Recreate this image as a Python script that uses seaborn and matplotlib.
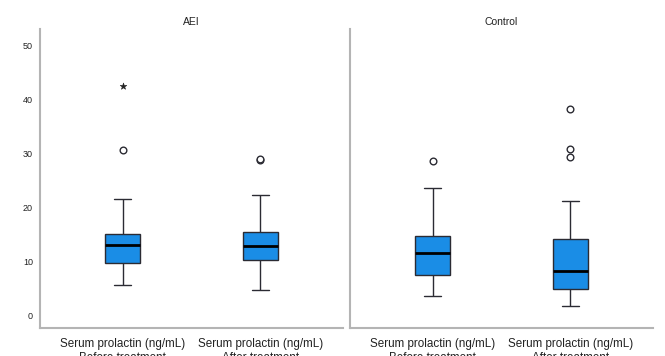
import matplotlib
matplotlib.use("Agg")
import matplotlib.pyplot as plt
import seaborn as sns
import pandas as pd

# Panels and the two measurements shown in each
groups = ["AEI", "Control"]
measures = ["Serum prolactin (ng/mL)\nBefore treatment",
            "Serum prolactin (ng/mL)\nAfter treatment"]

# Five-number summaries: lower whisker, Q1, median, Q3, upper whisker
aei_before = [5.5, 9.7, 12.9, 15.1, 21.5]
aei_after = [4.6, 10.2, 12.8, 15.3, 22.3]
control_before = [3.5, 7.5, 11.5, 14.7, 23.5]
control_after = [1.6, 4.9, 8.2, 14.1, 21.2]

# Outliers (circles) and extreme values (stars)
aei_before_outliers = [30.6]
aei_before_extremes = [42.5]
aei_after_outliers = [28.7, 28.9]
aei_after_extremes = []
control_before_outliers = [28.5]
control_before_extremes = []
control_after_outliers = [29.3, 30.7, 38.2]
control_after_extremes = []

y_ticks = [0, 10, 20, 30, 40, 50]

summaries = {
    "AEI": [aei_before, aei_after],
    "Control": [control_before, control_after],
}
outliers = {
    "AEI": [aei_before_outliers, aei_after_outliers],
    "Control": [control_before_outliers, control_after_outliers],
}
extremes = {
    "AEI": [aei_before_extremes, aei_after_extremes],
    "Control": [control_before_extremes, control_after_extremes],
}


def long_frame(per_measure):
    rows = []
    for m, vals in zip(measures, per_measure):
        for v in vals:
            rows.append({"measure": m, "value": v})
    return pd.DataFrame(rows, columns=["measure", "value"])


sns.set_style("white")
plt.rcParams["font.family"] = ["Liberation Sans", "DejaVu Sans"]

W, H = 665, 356
fig = plt.figure(figsize=(W / 100, H / 100), dpi=100)

box_color = "#1a8de6"
edge_color = "#2b2b33"
spine_color = "#b4b4b4"

panel_left_px = [40, 350]
panel_width_px = 303
top_px, bottom_px = 29, 328

for i, grp in enumerate(groups):
    ax = fig.add_axes([panel_left_px[i] / W, (H - bottom_px) / H,
                       panel_width_px / W, (bottom_px - top_px) / H])
    sns.boxplot(data=long_frame(summaries[grp]), x="measure", y="value",
                order=measures, ax=ax, whis=(0, 100), showfliers=False,
                width=0.25, color=box_color, saturation=1,
                linecolor=edge_color, linewidth=1.0,
                medianprops=dict(color="black", linewidth=2.0))
    out_df = long_frame(outliers[grp])
    if len(out_df):
        sns.stripplot(data=out_df, x="measure", y="value", order=measures,
                      ax=ax, jitter=False, marker="o", size=4.8,
                      color="white", edgecolor=edge_color, linewidth=1.0,
                      zorder=3)
    ext_df = long_frame(extremes[grp])
    if len(ext_df):
        sns.stripplot(data=ext_df, x="measure", y="value", order=measures,
                      ax=ax, jitter=False, marker="*", size=5,
                      color="#222222", edgecolor="#222222", linewidth=0.4,
                      zorder=3)

    ax.set_xlim(-0.6, 1.6)
    ax.set_ylim(-2.4, 53.0)
    ax.set_yticks(y_ticks)
    ax.set_xlabel("")
    ax.set_ylabel("")
    ax.set_title(grp, fontsize=7.5, color="#222222", pad=3)
    ax.tick_params(axis="both", length=0)
    ax.tick_params(axis="y", labelsize=6.5, pad=5, labelcolor="#222222")
    ax.tick_params(axis="x", labelsize=8.4, pad=7.5, labelcolor="#222222")
    for lab in ax.get_xticklabels():
        lab.set_linespacing(1.15)
    if i > 0:
        ax.set_yticklabels([])
    for side in ["top", "right"]:
        ax.spines[side].set_visible(False)
    for side in ["left", "bottom"]:
        ax.spines[side].set_color(spine_color)
        ax.spines[side].set_linewidth(1.5)

fig.savefig("out.png", dpi=100)
